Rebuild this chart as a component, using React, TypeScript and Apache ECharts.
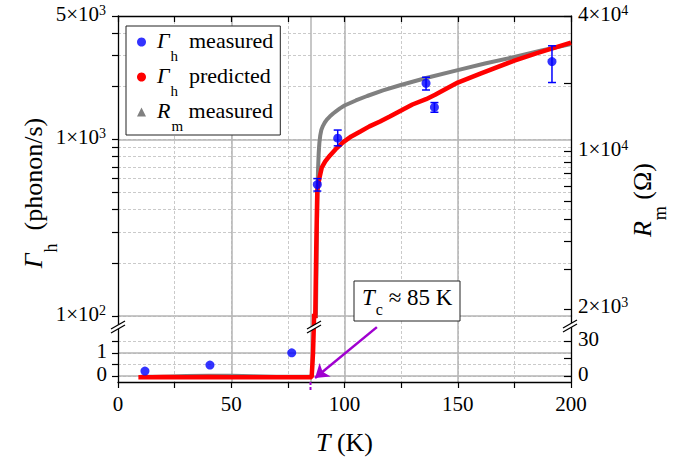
import React, { useEffect, useRef } from 'react';
import * as echarts from 'echarts';

const FONT = "'Liberation Serif', 'Times New Roman', Times, serif";

// ---------- data ----------
// Γh measured, shown on the log part
const measHiT = [88.0, 97.0, 136.0, 139.7, 191.6];
const measHiV = [555, 1017, 2080, 1521, 2760];
const measHiLo = [510, 920, 1905, 1425, 2100];
const measHiHi = [600, 1130, 2250, 1617, 3390];
// Γh measured on the linear (lower) part
const measLoT = [11.9, 40.6, 76.7];
const measLoV = [0.22, 0.48, 1.01];

// Γh predicted
const predLoT = [9, 15, 20, 30, 40, 50, 60, 70, 80, 85.5, 86.1, 86.5, 86.8];
const predLoV = [-0.04, -0.04, -0.03, -0.04, -0.03, -0.04, -0.04, -0.04, -0.04, -0.04, 1.0, 2.3, 4.0];
const predHiT = [86.3, 87.1, 87.5, 87.8, 88.0, 88.5, 89.0, 90.0, 91.5, 93.6, 96, 99.3, 103, 107, 111, 115.7, 120, 125, 130, 136, 140, 150, 160, 175, 185, 200];
const predHiV = [20, 100, 230, 380, 515, 565, 610, 695, 751, 812, 878, 962, 1040, 1110, 1185, 1264, 1349, 1460, 1577, 1690, 1790, 2099, 2360, 2795, 3080, 3532];

// R_m measured (right axis)
const rmLoT = [10, 20, 30, 40, 50, 60, 70, 80, 85, 86.0, 86.5];
const rmLoV = [0.1, 0.2, 0.8, 1.0, 0.9, 0.5, 0.2, 0.1, 0.1, 5, 60];
const rmHiT = [86.8, 87.4, 87.7, 88.0, 88.3, 88.6, 88.9, 89.3, 89.8, 90.5, 91.3, 92.2, 93.5, 95, 96.5, 98, 100, 105, 110, 117, 124.5, 136, 150, 162, 175, 187, 200];
const rmHiV = [1000, 1857, 3500, 6000, 8200, 9800, 10900, 11800, 12500, 13000, 13450, 13850, 14300, 14750, 15150, 15550, 16000, 16850, 17640, 18700, 19700, 21200, 23000, 24600, 26300, 28100, 30000];

// axis ticks / labels
const xLabelVals = [0, 50, 100, 150, 200];
const xSolidGrid = [50, 85, 100, 150];
const yLogTicks = [100, 200, 300, 400, 500, 600, 700, 800, 900, 1000, 2000, 3000, 4000, 5000];
const yLogLabels = [100, 1000, 5000];
const yLogSolid = [100, 1000];
const yLinTicks = [0, 0.5, 1, 1.5];
const yLinLabels = [0, 1];
const yLinSolid = [0, 1];
const rLogTicks = [2000, 3000, 4000, 5000, 6000, 7000, 8000, 9000, 10000, 20000, 30000, 40000];
const rLogLabels = [2000, 10000, 40000];
const rLinTicks = [0, 15, 30];
const rLinLabels = [0, 30];

const zip = (a: number[], b: number[]) => a.map((v, i) => [v, b[i]]);

const base = { fontFamily: FONT, color: '#000' };
// tick labels
const rich: any = {
  b: { ...base, fontSize: 21, lineHeight: 26, verticalAlign: 'top' },
  sup: { ...base, fontSize: 14, lineHeight: 14, verticalAlign: 'top' },
};
// legend
const legendRich: any = {
  i: { ...base, fontSize: 22, lineHeight: 26, verticalAlign: 'top', fontStyle: 'italic', padding: [0, 0, 0, 6] },
  b: { ...base, fontSize: 22, lineHeight: 26, verticalAlign: 'top' },
  sub: { ...base, fontSize: 15, lineHeight: 14, verticalAlign: 'top', padding: [19, 0, 0, 1] },
};
// axis titles
const titleRich: any = {
  i: { ...base, fontSize: 26, lineHeight: 30, verticalAlign: 'top', fontStyle: 'italic' },
  b: { ...base, fontSize: 26, lineHeight: 30, verticalAlign: 'top' },
  sub: { ...base, fontSize: 18, lineHeight: 18, verticalAlign: 'top', padding: [22, 0, 0, 1] },
};

const sci = (v: number) => {
  const e = Math.floor(Math.log10(v) + 1e-9);
  const m = Math.round(v / Math.pow(10, e));
  return `{b|${m}×10}{sup|${e}}`;
};
const plain = (v: number) => `{b|${v}}`;

const BLACK = '#000';
const GRID_SOLID = '#b4b4b4';
const GRID_DASH = '#cacaca';
const axisLine = { show: true, onZero: false, lineStyle: { color: BLACK, width: 1.3 } };

const hiddenAxisCommon = {
  axisLine: { show: false, onZero: false },
  axisLabel: { show: false },
};

function breakMark(cx: number, cy: number) {
  return {
    type: 'group',
    x: cx,
    y: cy,
    z: 60,
    children: [
      { type: 'polygon', shape: { points: [[-7, 2], [7, -6], [7, -2], [-7, 6]] }, style: { fill: '#fff' }, z: 60 },
      { type: 'line', shape: { x1: -7, y1: 2, x2: 7, y2: -6 }, style: { stroke: BLACK, lineWidth: 1.2 }, z: 61 },
      { type: 'line', shape: { x1: -7, y1: 6, x2: 7, y2: -2 }, style: { stroke: BLACK, lineWidth: 1.2 }, z: 61 },
    ],
  };
}

const legendNames: Record<string, string> = {
  'Γh measured': '{i|Γ}{sub|h}{b|  measured}',
  'Γh predicted': '{i|Γ}{sub|h}{b|  predicted}',
  'Rm measured': '{i|R}{sub|m}{b| measured}',
};

const option: any = {
  animation: false,
  backgroundColor: '#fff',
  textStyle: { fontFamily: FONT },
  grid: [
    { left: 118, top: 16, width: 453, height: 300 },
    { left: 118, top: 316, width: 453, height: 66 },
  ],
  xAxis: [
    {
      gridIndex: 0, type: 'value', position: 'top', min: 0, max: 200, interval: 25,
      axisLine, axisTick: { show: true, inside: true, length: 6, lineStyle: { color: BLACK, width: 1.2 } },
      axisLabel: { show: false },
      splitLine: { show: true, lineStyle: { color: GRID_DASH, width: 1, type: [3, 2] } },
    },
    {
      gridIndex: 0, type: 'value', position: 'bottom', min: 0, max: 200,
      ...hiddenAxisCommon,
      axisTick: { show: false, customValues: xSolidGrid },
      splitLine: { show: true, lineStyle: { color: GRID_SOLID, width: 1.5, type: 'solid' } },
    },
    {
      gridIndex: 1, type: 'value', position: 'bottom', min: 0, max: 200, interval: 25,
      axisLine, axisTick: { show: true, inside: false, length: 6, lineStyle: { color: BLACK, width: 1.2 } },
      axisLabel: { show: true, customValues: xLabelVals, margin: 11, fontFamily: FONT, fontSize: 21, color: BLACK },
      splitLine: { show: true, lineStyle: { color: GRID_DASH, width: 1, type: [3, 2] } },
      name: '{i|T}{b| (K)}', nameLocation: 'middle', nameGap: 47,
      nameTextStyle: { rich: titleRich },
    },
    {
      gridIndex: 1, type: 'value', position: 'top', min: 0, max: 200,
      ...hiddenAxisCommon,
      axisTick: { show: false, customValues: xSolidGrid },
      splitLine: { show: true, lineStyle: { color: GRID_SOLID, width: 1.5, type: 'solid' } },
    },
  ],
  yAxis: [
    {
      gridIndex: 0, type: 'log', position: 'left', min: 100, max: 5000,
      axisLine, axisTick: { show: true, inside: false, length: 6, customValues: yLogTicks, lineStyle: { color: BLACK, width: 1.2 } },
      axisLabel: { show: true, customValues: yLogLabels, margin: 12, formatter: (v: number) => sci(v), rich },
      splitLine: { show: true, lineStyle: { color: GRID_DASH, width: 1, type: [3, 2] } },
    },
    {
      gridIndex: 0, type: 'log', position: 'left', min: 100, max: 5000,
      ...hiddenAxisCommon,
      axisTick: { show: false, customValues: yLogSolid },
      splitLine: { show: true, lineStyle: { color: GRID_SOLID, width: 1.5, type: 'solid' } },
    },
    {
      gridIndex: 0, type: 'log', position: 'right', min: 1857, max: 40000,
      axisLine, axisTick: { show: true, inside: true, length: 7, customValues: rLogTicks, lineStyle: { color: BLACK, width: 1.2 } },
      axisLabel: { show: true, customValues: rLogLabels, margin: 7, formatter: (v: number) => sci(v), rich },
      splitLine: { show: false },
    },
    {
      gridIndex: 1, type: 'value', position: 'left', min: -0.25, max: 2.6,
      axisLine, axisTick: { show: true, inside: false, length: 6, customValues: yLinTicks, lineStyle: { color: BLACK, width: 1.2 } },
      axisLabel: { show: true, customValues: yLinLabels, margin: 11, formatter: (v: number) => plain(v), rich },
      splitLine: { show: true, lineStyle: { color: GRID_DASH, width: 1, type: [3, 2] } },
    },
    {
      gridIndex: 1, type: 'value', position: 'left', min: -0.25, max: 2.6,
      ...hiddenAxisCommon,
      axisTick: { show: false, customValues: yLinSolid },
      splitLine: { show: true, lineStyle: { color: GRID_SOLID, width: 1.5, type: 'solid' } },
    },
    {
      gridIndex: 1, type: 'value', position: 'right', min: -5, max: 51.5,
      axisLine, axisTick: { show: true, inside: true, length: 7, customValues: rLinTicks, lineStyle: { color: BLACK, width: 1.2 } },
      axisLabel: { show: true, customValues: rLinLabels, margin: 7, formatter: (v: number) => plain(v), rich },
      splitLine: { show: false },
    },
  ],
  legend: {
    orient: 'vertical', left: 126, top: 26,
    backgroundColor: '#fff', borderColor: '#222', borderWidth: 1,
    padding: [3, 7, 2, 11], itemGap: 1, itemWidth: 9, itemHeight: 9,
    selectedMode: false,
    textStyle: { fontFamily: FONT, fontSize: 22, color: BLACK, rich: legendRich },
    formatter: (name: string) => legendNames[name] || name,
    data: [
      { name: 'Γh measured', icon: 'circle', itemStyle: { color: '#0000ff' } },
      { name: 'Γh predicted', icon: 'circle', itemStyle: { color: '#ff0000' } },
      { name: 'Rm measured', icon: 'triangle', itemStyle: { color: '#808080' } },
    ],
  },
  series: [
    {
      name: 'Rm measured', type: 'line', xAxisIndex: 0, yAxisIndex: 2, z: 2,
      data: zip(rmHiT, rmHiV), showSymbol: false, symbol: 'triangle',
      lineStyle: { color: '#808080', width: 4 }, itemStyle: { color: '#808080' },
    },
    {
      name: 'Rm measured', type: 'line', xAxisIndex: 2, yAxisIndex: 5, z: 2,
      data: zip(rmLoT, rmLoV), showSymbol: false, symbol: 'triangle',
      lineStyle: { color: '#808080', width: 2.5 }, itemStyle: { color: '#808080' },
    },
    {
      name: 'Γh predicted', type: 'line', xAxisIndex: 0, yAxisIndex: 0, z: 3,
      data: zip(predHiT, predHiV), showSymbol: false, symbol: 'circle',
      lineStyle: { color: '#ff0000', width: 4.5 }, itemStyle: { color: '#ff0000' },
    },
    {
      name: 'Γh predicted', type: 'line', xAxisIndex: 2, yAxisIndex: 3, z: 3,
      data: zip(predLoT, predLoV), showSymbol: false, symbol: 'circle',
      lineStyle: { color: '#ff0000', width: 4.5 }, itemStyle: { color: '#ff0000' },
      markLine: {
        silent: true, symbol: ['none', 'arrow'], symbolSize: 13,
        lineStyle: { color: '#a000d0', width: 2.5, type: 'solid' },
        label: { show: false },
        data: [[{ coord: [114.3, 2.12] }, { coord: [87.0, -0.08] }]],
      },
    },
    {
      name: 'err', type: 'custom', xAxisIndex: 0, yAxisIndex: 0, z: 4,
      data: measHiT.map((t, i) => [t, measHiV[i], measHiLo[i], measHiHi[i]]),
      encode: { x: 0, y: 1 },
      renderItem: (params: any, api: any) => {
        const t = api.value(0);
        const lo = api.coord([t, api.value(2)]);
        const hi = api.coord([t, api.value(3)]);
        const c = 4;
        const st = { stroke: '#0000ff', lineWidth: 1.5 };
        return {
          type: 'group',
          children: [
            { type: 'line', shape: { x1: lo[0], y1: lo[1], x2: hi[0], y2: hi[1] }, style: st },
            { type: 'line', shape: { x1: lo[0] - c, y1: lo[1], x2: lo[0] + c, y2: lo[1] }, style: st },
            { type: 'line', shape: { x1: hi[0] - c, y1: hi[1], x2: hi[0] + c, y2: hi[1] }, style: st },
          ],
        };
      },
    },
    {
      name: 'Γh measured', type: 'scatter', xAxisIndex: 0, yAxisIndex: 0, z: 5,
      data: zip(measHiT, measHiV), symbol: 'circle', symbolSize: 9,
      itemStyle: { color: '#0000ff' },
    },
    {
      name: 'Γh measured', type: 'scatter', xAxisIndex: 2, yAxisIndex: 3, z: 5,
      data: zip(measLoT, measLoV), symbol: 'circle', symbolSize: 9,
      itemStyle: { color: '#0000ff' },
    },
  ],
  graphic: [
    breakMark(118, 327),
    breakMark(570, 326),
    breakMark(314, 327),
    {
      type: 'line', z: 50,
      shape: { x1: 310.5, y1: 382, x2: 310.5, y2: 391 },
      style: { stroke: '#a000d0', lineWidth: 2, lineDash: [3, 2] },
    },
    {
      type: 'group', z: 70,
      children: [
        { type: 'rect', shape: { x: 354, y: 281, width: 106, height: 40 }, style: { fill: '#fff', stroke: '#222', lineWidth: 1 }, z: 70 },
        {
          type: 'text', x: 362, y: 286, z: 71,
          style: {
            text: '{ti|T}{sc|c}{tt| ≈ 85 K}',
            rich: {
              ti: { ...base, fontSize: 23, lineHeight: 26, verticalAlign: 'top', fontStyle: 'italic' },
              tt: { ...base, fontSize: 23, lineHeight: 26, verticalAlign: 'top' },
              sc: { ...base, fontSize: 16, lineHeight: 16, verticalAlign: 'top', padding: [15, 0, 0, 1] },
            },
          },
        },
      ],
    },
    {
      type: 'text', x: 35, y: 193, rotation: Math.PI / 2, z: 50,
      style: {
        text: '{i|Γ}{sub|h}{b|  (phonon/s)}', rich: titleRich,
        align: 'center', verticalAlign: 'middle',
      },
    },
    {
      type: 'text', x: 644, y: 200, rotation: Math.PI / 2, z: 50,
      style: {
        text: '{i|R}{sub|m}{b| (Ω)}', rich: titleRich,
        align: 'center', verticalAlign: 'middle',
      },
    },
  ],
};

export default function App() {
  const ref = useRef<HTMLDivElement>(null);
  useEffect(() => {
    const chart = echarts.init(ref.current as HTMLDivElement, undefined, { renderer: 'svg' });
    chart.setOption(option);
    return () => chart.dispose();
  }, []);
  return (
    <div
      ref={ref}
      style={{ position: 'absolute', left: 0, top: 0, width: 674, height: 459, background: '#fff' }}
    />
  );
}
